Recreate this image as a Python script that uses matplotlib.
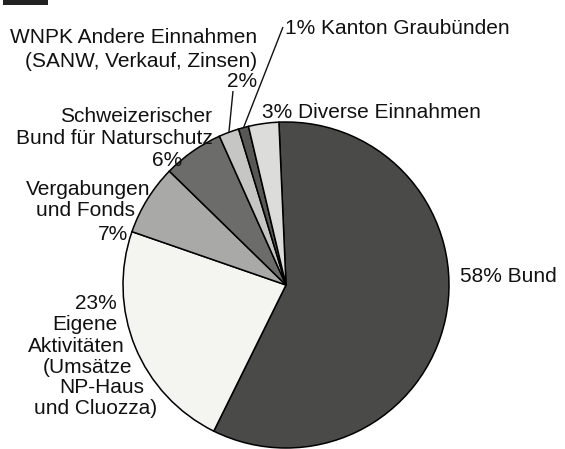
import numpy as np
import matplotlib
matplotlib.use("Agg")
import matplotlib.pyplot as plt
from matplotlib.patches import Rectangle

# ---- data ----
categories = ["Bund", "Eigene Aktivitäten", "Vergabungen und Fonds",
              "Schweizerischer Bund für Naturschutz", "WNPK Andere Einnahmen",
              "Kanton Graubünden", "Diverse Einnahmen"]
values = [58, 23, 7, 6, 2, 1, 3]
label_lines = [
    ["58% Bund"],
    ["23%", "Eigene", "Aktivitäten", "(Umsätze", "NP-Haus", "und Cluozza)"],
    ["Vergabungen", "und Fonds", "7%"],
    ["Schweizerischer", "Bund für Naturschutz", "6%"],
    ["WNPK Andere Einnahmen", "(SANW, Verkauf, Zinsen)", "2%"],
    ["1% Kanton Graubünden"],
    ["3% Diverse Einnahmen"],
]

# ---- style / layout ----
colors = ["#4a4a48", "#f4f4f1", "#a9a9a7", "#6c6c6a", "#c6c6c4", "#575755", "#dcdcda"]
W, H = 565, 449
CX, CY, R = 286, 285, 163          # pixel coords (y down)
FONT = "Liberation Sans"
FS = 15

def py(y):
    return H - y

# label line anchors: (x, baseline_y_px, ha) per line
label_pos = [
    [(460, 282, "left")],
    [(117, 309, "right"), (118, 330, "right"), (125, 352, "right"),
     (132, 373, "right"), (144, 393, "right"), (157, 414, "right")],
    [(88, 195, "center"), (85, 216, "center"), (128, 240, "right")],
    [(212, 122, "right"), (213, 144, "right"), (182, 166, "right")],
    [(257, 43, "right"), (257, 67, "right"), (257, 87, "right")],
    [(285, 34, "left")],
    [(262, 118, "left")],
]
leader = {4: (233, 91), 5: (283, 27)}   # text-side start of leader lines

fig = plt.figure(figsize=(W / 100, H / 100), dpi=100)
ax = fig.add_axes([0, 0, 1, 1])
wedges, _ = ax.pie(values, colors=colors, startangle=92.5, counterclock=False,
                   center=(CX, py(CY)), radius=R,
                   wedgeprops=dict(edgecolor="black", linewidth=1.1))
ax.set_xlim(0, W)
ax.set_ylim(0, H)
ax.set_aspect("equal")
ax.axis("off")

for lines, poss in zip(label_lines, label_pos):
    for txt, (x, yb, ha) in zip(lines, poss):
        ax.text(x, py(yb), txt, ha=ha, va="baseline", fontsize=FS,
                family=FONT, color="#111111")

for i, (sx, sy) in leader.items():
    w = wedges[i]
    mid = np.deg2rad((w.theta1 + w.theta2) / 2)
    ex = CX + R * np.cos(mid)
    ey = py(CY) + R * np.sin(mid)
    ax.plot([sx, ex], [py(sy), ey], color="#111111", lw=1.0, solid_capstyle="butt")

# scan artifact bar at top-left
ax.add_patch(Rectangle((3, py(5)), 45, 5, color="#222222", lw=0))

fig.savefig("out.png", dpi=100)
